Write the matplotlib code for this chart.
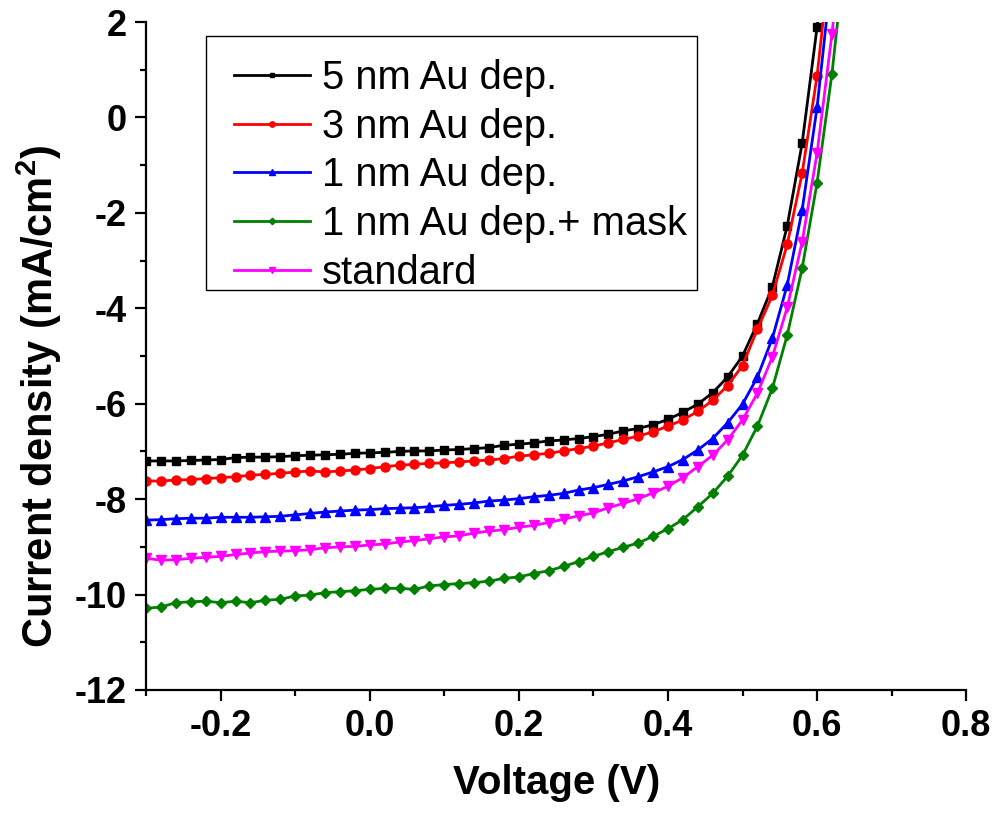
import numpy as np
import matplotlib
matplotlib.use("Agg")
import matplotlib.pyplot as plt
from matplotlib.patches import Rectangle
from matplotlib.ticker import MultipleLocator

plt.rcParams['font.family'] = ['Liberation Sans', 'DejaVu Sans']
plt.rcParams['axes.unicode_minus'] = False
plt.rcParams['mathtext.fontset'] = 'custom'
plt.rcParams['mathtext.bf'] = 'Liberation Sans:bold'
plt.rcParams['mathtext.rm'] = 'Liberation Sans:bold'

# voltage sweep, 20 mV steps
voltage = np.round(np.linspace(-0.30, 0.64, 48), 2)

# current density (mA/cm2); last points lie above the plot top
j_5nm = [-7.20, -7.20, -7.20, -7.19, -7.18, -7.17, -7.13, -7.12, -7.12, -7.11,
         -7.09, -7.08, -7.07, -7.06, -7.04, -7.03, -7.02, -7.00, -6.99, -6.99,
         -6.97, -6.96, -6.94, -6.92, -6.87, -6.85, -6.82, -6.78, -6.76, -6.73,
         -6.69, -6.64, -6.57, -6.52, -6.44, -6.33, -6.18, -6.01, -5.77, -5.44,
         -5.00, -4.32, -3.55, -2.27, -0.54, 1.89, 5.0]
j_3nm = [-7.62, -7.62, -7.60, -7.59, -7.57, -7.55, -7.53, -7.50, -7.48, -7.46,
         -7.43, -7.41, -7.43, -7.41, -7.39, -7.36, -7.32, -7.29, -7.27, -7.25,
         -7.24, -7.22, -7.20, -7.18, -7.15, -7.10, -7.07, -7.04, -6.99, -6.94,
         -6.89, -6.82, -6.75, -6.68, -6.59, -6.47, -6.34, -6.16, -5.93, -5.62,
         -5.20, -4.44, -3.73, -2.66, -1.17, 0.87, 3.7]
j_1nm = [-8.44, -8.43, -8.41, -8.40, -8.40, -8.38, -8.38, -8.38, -8.37, -8.36,
         -8.33, -8.30, -8.27, -8.25, -8.23, -8.22, -8.20, -8.19, -8.18, -8.16,
         -8.13, -8.11, -8.08, -8.04, -8.02, -7.99, -7.95, -7.92, -7.88, -7.81,
         -7.76, -7.69, -7.62, -7.53, -7.43, -7.32, -7.17, -6.97, -6.73, -6.40,
         -6.01, -5.44, -4.63, -3.51, -1.94, 0.21, 3.1]
j_1nm_mask = [-10.29, -10.26, -10.17, -10.15, -10.14, -10.17, -10.14, -10.17, -10.12, -10.10,
              -10.03, -10.01, -9.96, -9.94, -9.92, -9.89, -9.87, -9.87, -9.89, -9.82,
              -9.79, -9.77, -9.75, -9.72, -9.66, -9.63, -9.56, -9.50, -9.41, -9.31,
              -9.20, -9.10, -9.01, -8.92, -8.78, -8.62, -8.43, -8.16, -7.88, -7.52,
              -7.08, -6.47, -5.68, -4.56, -3.16, -1.37, 0.92, 3.8]
j_standard = [-9.24, -9.28, -9.27, -9.24, -9.22, -9.20, -9.16, -9.13, -9.10, -9.09,
              -9.08, -9.06, -9.02, -9.00, -8.99, -8.96, -8.94, -8.90, -8.87, -8.83,
              -8.79, -8.77, -8.71, -8.67, -8.64, -8.59, -8.55, -8.49, -8.42, -8.35,
              -8.29, -8.18, -8.09, -7.99, -7.87, -7.73, -7.55, -7.32, -7.08, -6.76,
              -6.34, -5.78, -5.02, -3.98, -2.61, -0.75, 1.75, 4.7]

labels = ['5 nm Au dep.', '3 nm Au dep.', '1 nm Au dep.',
          '1 nm Au dep.+ mask', 'standard']
series = [j_5nm, j_3nm, j_1nm, j_1nm_mask, j_standard]
colors = ['black', '#ff0000', '#0000ff', '#008000', '#ff00ff']
markers = ['s', 'o', '^', 'D', 'v']
msizes = [6, 6.5, 7, 5.5, 7]

fig = plt.figure(figsize=(9.94, 8.18), dpi=100)
ax = fig.add_axes([0.147, 0.1565, 0.825, 0.8166])

for lab, j, c, m, ms in zip(labels, series, colors, markers, msizes):
    ax.plot(voltage[:len(j)], j, color=c, marker=m, markersize=ms, lw=2.0,
            label=lab)

ax.set_xlim(-0.3, 0.8)
ax.set_ylim(-12, 2)
ax.xaxis.set_major_locator(MultipleLocator(0.2))
ax.xaxis.set_minor_locator(MultipleLocator(0.1))
ax.yaxis.set_major_locator(MultipleLocator(2))
ax.yaxis.set_minor_locator(MultipleLocator(1))
ax.xaxis.set_major_formatter(plt.FuncFormatter(lambda v, p: '%.1f' % v))

for side in ['top', 'right']:
    ax.spines[side].set_visible(False)
for side in ['left', 'bottom']:
    ax.spines[side].set_linewidth(1.6)

ax.tick_params(which='major', direction='out', length=8, width=1.6,
               labelsize=26, pad=6)
ax.tick_params(which='minor', direction='out', length=4.5, width=1.6)
for t in ax.get_xticklabels() + ax.get_yticklabels():
    t.set_fontweight('bold')

ax.set_xlabel('Voltage (V)', fontsize=29, fontweight='bold', labelpad=14)
ax.set_ylabel(r'Current density (mA/cm$^\mathbf{2}$)', fontsize=30,
              fontweight='bold')
ax.yaxis.set_label_coords(-0.100, 0.44)

# legend text without its own frame, box drawn separately (Origin style)
leg = ax.legend(loc='upper left', bbox_to_anchor=(0.107, 0.945),
                borderaxespad=0, fontsize=28.7, frameon=False,
                handlelength=1.9, handletextpad=0.3,
                labelspacing=0.27, markerscale=0.6, borderpad=0)
ax.add_patch(Rectangle((0.073, 0.599), 0.599, 0.380, transform=ax.transAxes,
                       fill=False, edgecolor='black', lw=1.0, zorder=6,
                       clip_on=False))

fig.savefig('out.png', dpi=100)
